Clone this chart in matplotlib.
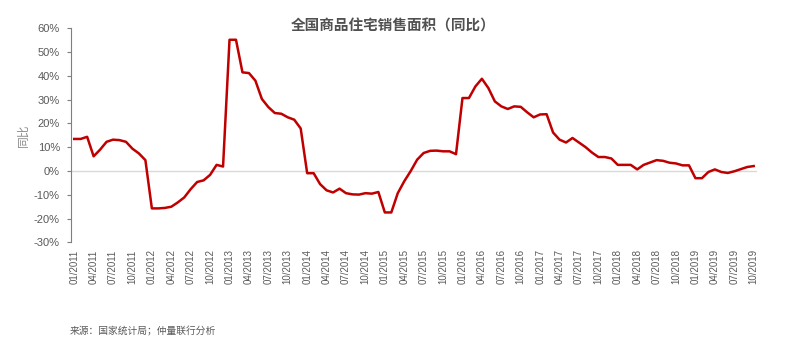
import matplotlib.pyplot as plt
import numpy as np

plt.rcParams['font.family'] = ['Liberation Sans', 'Noto Sans CJK SC', 'DejaVu Sans']

# cumulative YoY growth of residential sales area, %, monthly Jan 2011 - Oct 2019
yoy_2011 = [13.5, 13.5, 14.4, 6.2, 9.0, 12.3, 13.2, 13.0, 12.3, 9.4, 7.4, 4.6]
yoy_2012 = [-15.7, -15.7, -15.5, -15.0, -13.2, -11.1, -7.6, -4.6, -3.9, -1.6, 2.6, 1.9]
yoy_2013 = [55.2, 55.2, 41.5, 41.2, 38.0, 30.3, 26.9, 24.4, 24.1, 22.6, 21.6, 17.9]
yoy_2014 = [-0.9, -0.9, -5.5, -8.1, -9.0, -7.4, -9.3, -9.8, -9.9, -9.3, -9.5, -8.8]
yoy_2015 = [-17.4, -17.4, -9.3, -4.3, 0.0, 4.8, 7.6, 8.5, 8.6, 8.3, 8.3, 7.1]
yoy_2016 = [30.7, 30.7, 35.6, 38.8, 34.9, 29.3, 27.2, 26.1, 27.2, 27.0, 24.7, 22.6]
yoy_2017 = [23.8, 23.9, 16.2, 13.2, 12.0, 13.9, 12.0, 10.1, 7.8, 5.9, 5.9, 5.3]
yoy_2018 = [2.6, 2.6, 2.6, 0.7, 2.6, 3.6, 4.6, 4.3, 3.5, 3.2, 2.4, 2.4]
yoy_2019 = [-3.0, -3.0, -0.4, 0.7, -0.4, -0.8, -0.1, 0.8, 1.7, 2.1]

values = (yoy_2011 + yoy_2012 + yoy_2013 + yoy_2014 + yoy_2015
          + yoy_2016 + yoy_2017 + yoy_2018 + yoy_2019)
years = list(range(2011, 2020))
tick_labels = [f"{m:02d}/{y}" for y in years for m in (1, 4, 7, 10)]
y_ticks = list(range(-30, 61, 10))

x = np.arange(len(values))
gray = '#595959'

fig = plt.figure(figsize=(7.86, 3.5), dpi=100)
ax = fig.add_axes([0.0903, 0.3074, 0.8727, 0.6116])

ax.axhline(0, color='#d9d9d9', lw=1, zorder=1)
ax.plot(x, values, color='#C00000', lw=1.8, zorder=3)

ax.set_xlim(-0.5, len(values) - 0.5)
ax.set_ylim(-30, 60)
ax.set_yticks(y_ticks)
ax.set_yticklabels([f"{v}%" for v in y_ticks], fontsize=8, color=gray)
ax.set_xticks(np.arange(0, len(values), 3))
ax.set_xticklabels(tick_labels, rotation=90, fontsize=7, color=gray)

for side in ('top', 'right', 'bottom'):
    ax.spines[side].set_visible(False)
ax.spines['left'].set_color('#7f7f7f')
ax.tick_params(axis='y', length=3, color='#7f7f7f', pad=5)
ax.tick_params(axis='x', length=0, pad=5)

ax.set_ylabel('同比', fontsize=8.5, color='#8c8c8c', labelpad=3)

fig.text(0.5, 0.925, '全国商品住宅销售面积（同比）', ha='center', va='center',
         fontsize=10.5, color='#505050', fontweight='bold')
fig.text(0.089, 0.052, '来源：国家统计局；仲量联行分析', ha='left', va='center',
         fontsize=7, color=gray)

fig.savefig('out.png', dpi=100)
